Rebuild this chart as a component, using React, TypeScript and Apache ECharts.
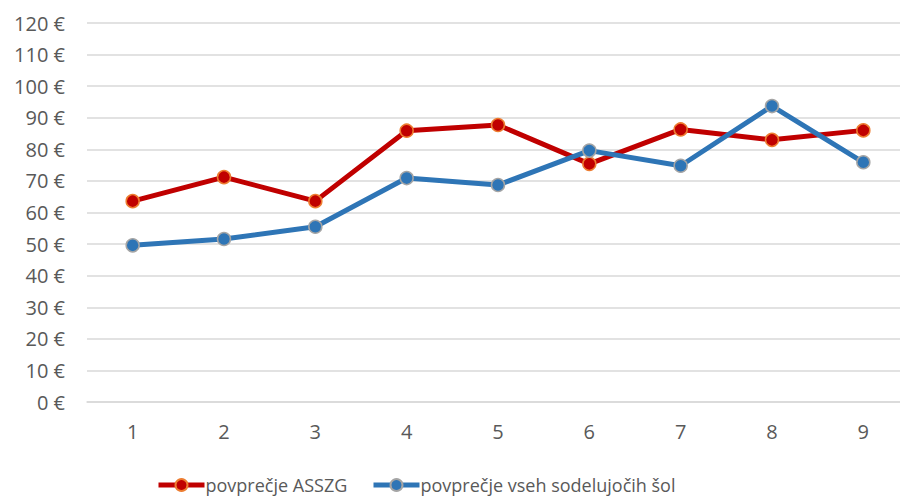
import React, { useEffect, useRef } from "react";
import * as echarts from "echarts";

const categories = ["1", "2", "3", "4", "5", "6", "7", "8", "9"];
const seriesAsszg = [63.6, 71.2, 63.6, 85.9, 87.7, 75.4, 86.3, 83.0, 86.0];
const seriesAll = [49.6, 51.6, 55.5, 70.9, 68.7, 79.6, 74.8, 93.7, 75.9];
const nameAsszg = "povprečje ASSZG";
const nameAll = "povprečje vseh sodelujočih šol";

export default function App() {
  const ref = useRef<HTMLDivElement>(null);
  useEffect(() => {
    if (!ref.current) return;
    const chart = echarts.init(ref.current, null, { renderer: "svg" });
    const font = "'Open Sans', sans-serif";
    const legendBase = {
      top: 476,
      padding: 0,
      itemWidth: 46,
      itemHeight: 15,
      lineStyle: { width: 5 },
      textStyle: { color: "#595959", fontSize: 18, fontFamily: font, padding: [0, 0, 0, -4] },
    };
    chart.setOption({
      animation: false,
      backgroundColor: "#ffffff",
      grid: { left: 87, right: 0, top: 23, bottom: 95, containLabel: false },
      legend: [
        { ...legendBase, left: 156, data: [nameAsszg] },
        { ...legendBase, left: 371, data: [nameAll] },
      ],
      xAxis: {
        type: "category",
        data: categories,
        boundaryGap: true,
        axisLine: { show: true, lineStyle: { color: "#d9d9d9", width: 1.5 } },
        axisTick: { show: false },
        axisLabel: { color: "#595959", fontSize: 20, fontFamily: font, margin: 19 },
      },
      yAxis: {
        type: "value",
        min: 0,
        max: 120,
        interval: 10,
        axisLine: { show: false },
        axisTick: { show: false },
        splitLine: { lineStyle: { color: "#d9d9d9", width: 1.5 } },
        axisLabel: {
          color: "#595959",
          fontSize: 20,
          fontFamily: font,
          margin: 22,
          formatter: (v: number) => `${v} €`,
        },
      },
      series: [
        {
          name: nameAsszg,
          type: "line",
          data: seriesAsszg,
          symbol: "circle",
          symbolSize: 13,
          lineStyle: { color: "#C00000", width: 5 },
          itemStyle: { color: "#C00000", borderColor: "#ED7D31", borderWidth: 1.5 },
          z: 2,
        },
        {
          name: nameAll,
          type: "line",
          data: seriesAll,
          symbol: "circle",
          symbolSize: 13,
          lineStyle: { color: "#2E75B6", width: 5 },
          itemStyle: { color: "#2E75B6", borderColor: "#A5A5A5", borderWidth: 1.5 },
          z: 3,
        },
      ],
    });
    return () => chart.dispose();
  }, []);
  return (
    <div style={{ position: "fixed", left: 0, top: 0, width: 900, height: 497, overflow: "hidden", background: "#fff" }}>
      <div ref={ref} style={{ width: 909, height: 497 }} />
    </div>
  );
}
